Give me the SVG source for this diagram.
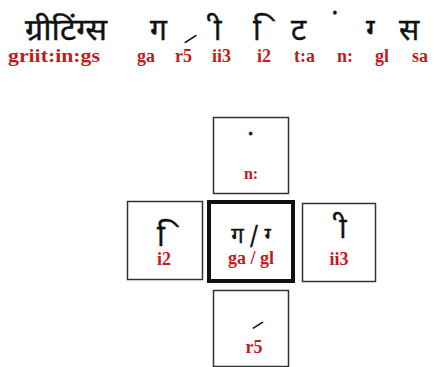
<svg xmlns="http://www.w3.org/2000/svg" width="446" height="367" viewBox="0 0 446 367">
<style>
.dv{font-family:"Noto Sans Devanagari","Noto Sans","DejaVu Sans",sans-serif;fill:#111;stroke:#111;stroke-width:0.4;}
.rk{font-family:"DejaVu Sans",sans-serif;font-weight:bold;fill:#111;}
.rd{font-family:"Liberation Serif",serif;font-weight:bold;fill:#c41a1a;}
.box{fill:#fff;stroke:#333;stroke-width:1.5;}
.boxc{fill:#fff;stroke:#111;stroke-width:4;}
</style>
<rect width="446" height="367" fill="#fff"/>
<g id="title">
<text class="dv" x="25" y="40" font-size="30" textLength="82" lengthAdjust="spacingAndGlyphs">ग्रीटिंग्स</text>
<text class="dv" x="150" y="40" font-size="30">ग</text>
<text class="rk" x="0" y="0" font-size="16" transform="translate(185,41) rotate(40)">/</text>
<text class="dv" x="206" y="40" font-size="30">&#xA0;ी</text>
<text class="dv" x="253" y="40" font-size="30">&#xA0;ि</text>
<text class="dv" x="291" y="40" font-size="30">ट</text>
<text class="dv" x="331" y="36" font-size="30">&#xA0;ं</text>
<text class="dv" x="366" y="40" font-size="30">ग्&#x200D;</text>
<text class="dv" x="399" y="40" font-size="30">स</text>
</g>
<g id="labels" font-size="18">
<text class="rd" x="8" y="62" textLength="92" lengthAdjust="spacingAndGlyphs">griit:in:gs</text>
<text class="rd" x="137" y="62">ga</text>
<text class="rd" x="175" y="62">r5</text>
<text class="rd" x="212" y="62">ii3</text>
<text class="rd" x="257" y="62">i2</text>
<text class="rd" x="294" y="62">t:a</text>
<text class="rd" x="337" y="62">n:</text>
<text class="rd" x="375" y="62">gl</text>
<text class="rd" x="412" y="62">sa</text>
</g>
<g id="node-top">
<rect class="box" x="213.5" y="117.5" width="75" height="76"/>
<text class="dv" x="247" y="156" font-size="28">&#xA0;ं</text>
<text class="rd" x="251" y="179" font-size="16" text-anchor="middle">n:</text>
</g>
<g id="node-left">
<rect class="box" x="127.5" y="201.5" width="75" height="78"/>
<text class="dv" x="157" y="246" font-size="30">&#xA0;ि</text>
<text class="rd" x="164" y="265" font-size="18" text-anchor="middle">i2</text>
</g>
<g id="node-center">
<rect class="boxc" x="209" y="202" width="84" height="79"/>
<text class="dv" x="251" y="243" font-size="22" text-anchor="middle">ग / ग्&#x200D;</text>
<text class="rd" x="251" y="264" font-size="18" text-anchor="middle">ga / gl</text>
</g>
<g id="node-right">
<rect class="box" x="302.5" y="203.5" width="73" height="78"/>
<text class="dv" x="332" y="238" font-size="28">&#xA0;ी</text>
<text class="rd" x="339" y="265" font-size="18" text-anchor="middle">ii3</text>
</g>
<g id="node-bottom">
<rect class="box" x="213.5" y="290.5" width="75" height="76"/>
<text class="rk" x="0" y="0" font-size="14" transform="translate(253,327) rotate(40)">/</text>
<text class="rd" x="254" y="353" font-size="18" text-anchor="middle">r5</text>
</g>
</svg>
